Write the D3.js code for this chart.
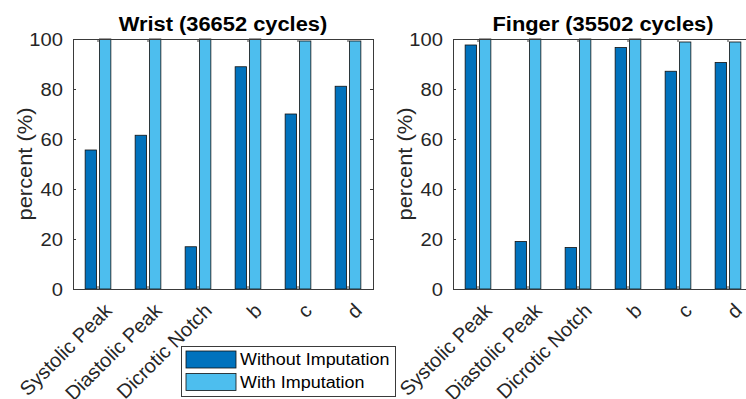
<!DOCTYPE html>
<html>
<head>
<meta charset="utf-8">
<script src="https://cdn.jsdelivr.net/npm/d3@7"></script>
<style>
  html, body { margin: 0; padding: 0; background: #fff; }
  svg { display: block; font-family: "Liberation Sans", Arial, Helvetica, sans-serif; }
</style>
</head>
<body>
<svg id="chart" width="746" height="399"></svg>
<script>
// Detection rates of fiducial points, without and with imputation
const categories = ["Systolic Peak", "Diastolic Peak", "Dicrotic Notch", "b", "c", "d"];
const seriesNames = ["Without Imputation", "With Imputation"];

const wristTitle = "Wrist (36652 cycles)";
const wristWithout = [55.6, 61.5, 16.9, 88.9, 70.0, 81.1];
const wristWith = [100, 100, 100, 100, 99.2, 99.2];

const fingerTitle = "Finger (35502 cycles)";
const fingerWithout = [97.6, 19.0, 16.6, 96.6, 87.1, 90.6];
const fingerWith = [100, 100, 100, 100, 98.8, 98.8];

const yTicks = [0, 20, 40, 60, 80, 100];
const yLabel = "percent (%)";

const colors = ["#0072BD", "#4DBEEE"];
const textColor = "#262626";
const axisColor = "#3a3a3a";
const widen = 1.12; // horizontal text stretch

const svg = d3.select("#chart");

function stretch(sel, factor) {
  sel.each(function () {
    const len = this.getComputedTextLength();
    if (len > 0) {
      d3.select(this)
        .attr("textLength", len * factor)
        .attr("lengthAdjust", "spacingAndGlyphs");
    }
  });
}

const plotW = 300, plotH = 250, plotTop = 39;

function drawPanel(left, title, without, withImp) {
  const g = svg.append("g").attr("transform", `translate(${left},${plotTop})`);

  const x = d3.scaleBand().domain(categories).range([0, plotW]).padding(0);
  const groupW = x.bandwidth() * 0.5714;
  const xInner = d3.scaleBand().domain(seriesNames)
    .range([(x.bandwidth() - groupW) / 2, (x.bandwidth() + groupW) / 2])
    .paddingInner(0.2).paddingOuter(0.1);
  const y = d3.scaleLinear().domain([0, 100]).range([plotH, 0]);

  const rows = categories.map((c, i) => ({ cat: c, vals: [without[i], withImp[i]] }));

  // bars
  const groups = g.selectAll("g.grp").data(rows).join("g")
    .attr("class", "grp")
    .attr("transform", d => `translate(${x(d.cat)},0)`);
  groups.selectAll("rect")
    .data(d => d.vals.map((v, k) => ({ k, v })))
    .join("rect")
    .attr("x", d => xInner(seriesNames[d.k]))
    .attr("width", xInner.bandwidth())
    .attr("y", d => y(d.v))
    .attr("height", d => y(0) - y(d.v))
    .attr("fill", d => colors[d.k])
    .attr("stroke", "#111")
    .attr("stroke-width", 0.8);

  // axes with inward ticks
  const tick = 3;
  const yl = g.append("g").call(d3.axisLeft(y).tickValues(yTicks).tickSizeInner(-tick).tickSizeOuter(0).tickPadding(10));
  const yr = g.append("g").attr("transform", `translate(${plotW},0)`)
    .call(d3.axisRight(y).tickValues(yTicks).tickSizeInner(-tick).tickSizeOuter(0).tickFormat(""));
  const xt = g.append("g").call(d3.axisTop(x).tickSizeInner(-tick).tickSizeOuter(0).tickFormat(""));
  const xb = g.append("g").attr("transform", `translate(0,${plotH})`)
    .call(d3.axisBottom(x).tickSizeInner(-tick).tickSizeOuter(0).tickFormat(""));

  [yl, yr, xt, xb].forEach(a => {
    a.select(".domain").remove();
    a.selectAll("line").attr("stroke", axisColor);
  });

  yl.selectAll("text")
    .attr("fill", textColor)
    .style("font-size", "18px")
    .attr("dy", "0.36em");
  stretch(yl.selectAll("text"), widen);

  // box
  g.append("rect")
    .attr("x", 0.5).attr("y", 0.5)
    .attr("width", plotW).attr("height", plotH)
    .attr("fill", "none")
    .attr("stroke", axisColor)
    .attr("stroke-width", 1);

  // rotated category labels
  g.append("g").selectAll("text").data(categories).join("text")
    .attr("transform", d => `translate(${x(d) + x.bandwidth() / 2 + 15},${plotH + 23}) rotate(-45)`)
    .attr("text-anchor", "end")
    .attr("fill", textColor)
    .style("font-size", "20px")
    .text(d => d);

  // title
  const t = g.append("text")
    .attr("x", plotW / 2).attr("y", -8)
    .attr("text-anchor", "middle")
    .attr("fill", "#000")
    .style("font-size", "19.5px")
    .style("font-weight", "bold")
    .text(title);
  stretch(t, widen);

  // y axis label
  const yt = g.append("text")
    .attr("transform", `translate(${31.5 - 73},${plotH / 2}) rotate(-90)`)
    .attr("text-anchor", "middle")
    .attr("fill", textColor)
    .style("font-size", "19.5px")
    .text(yLabel);
  stretch(yt, widen);
}

drawPanel(73, wristTitle, wristWithout, wristWith);
drawPanel(453, fingerTitle, fingerWithout, fingerWith);

// legend
const lg = svg.append("g").attr("transform", "translate(181,346)");
lg.append("rect")
  .attr("x", 0.5).attr("y", 0.5)
  .attr("width", 214).attr("height", 50)
  .attr("fill", "#fff")
  .attr("stroke", axisColor)
  .attr("stroke-width", 1);
const items = lg.selectAll("g.item").data(seriesNames).join("g")
  .attr("class", "item")
  .attr("transform", (d, i) => `translate(5,${5 + i * 22.5})`);
items.append("rect")
  .attr("width", 50).attr("height", 17)
  .attr("fill", (d, i) => colors[i])
  .attr("stroke", "#111")
  .attr("stroke-width", 0.8);
const lt = items.append("text")
  .attr("x", 54).attr("y", 8.5)
  .attr("dy", "0.36em")
  .attr("fill", "#000")
  .style("font-size", "16px")
  .text(d => d);
stretch(lt, widen);
</script>
</body>
</html>
